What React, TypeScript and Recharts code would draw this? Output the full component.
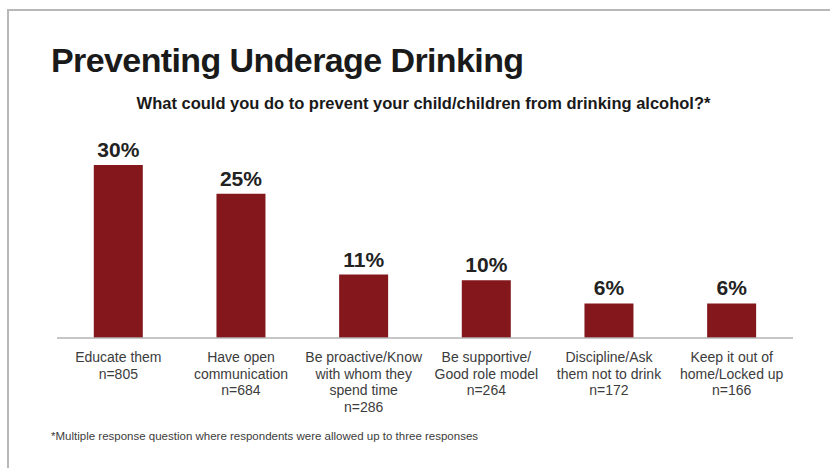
import React from 'react';
import { BarChart, Bar, XAxis, YAxis, LabelList } from 'recharts';

const categories = [
  'Educate them',
  'Have open\ncommunication',
  'Be proactive/Know\nwith whom they\nspend time',
  'Be supportive/\nGood role model',
  'Discipline/Ask\nthem not to drink',
  'Keep it out of\nhome/Locked up',
];
const sampleSizes = [805, 684, 286, 264, 172, 166];
const percents = [30, 25, 11, 10, 6, 6];

const data = categories.map((name, i) => ({
  name,
  n: sampleSizes[i],
  value: percents[i],
}));

const FONT = '"Liberation Sans", Arial, Helvetica, sans-serif';

const CategoryTick = (props: any) => {
  const { x, y, payload, index } = props;
  const lines = String(payload.value).split('\n');
  lines.push('n=' + sampleSizes[index]);
  return (
    <text x={x} y={y} textAnchor="middle" fill="#3c3c3c" fontSize={14} fontFamily={FONT}>
      {lines.map((line, i) => (
        <tspan key={i} x={x} dy={i === 0 ? 16 : 16.5}>
          {line}
        </tspan>
      ))}
    </text>
  );
};

const App: React.FC = () => {
  return (
    <div style={{ position: 'absolute', left: 0, top: 0, width: 830, height: 468, background: '#fff', fontFamily: FONT, overflow: 'hidden' }}>
      <div style={{ position: 'absolute', left: 7, top: 9, right: 0, bottom: 0, borderTop: '2px solid #b8b8b8', borderLeft: '2px solid #b8b8b8' }} />
      <div style={{ position: 'absolute', left: 51, top: 43, fontSize: 34, lineHeight: 1, fontWeight: 'bold', color: '#1a1a1a', letterSpacing: -0.6, whiteSpace: 'nowrap' }}>
        Preventing Underage Drinking
      </div>
      <div style={{ position: 'absolute', left: 0, width: 847, top: 95, fontSize: 16.5, lineHeight: 1, fontWeight: 'bold', color: '#1a1a1a', textAlign: 'center', whiteSpace: 'nowrap' }}>
        What could you do to prevent your child/children from drinking alcohol?*
      </div>
      <div style={{ position: 'absolute', left: 0, top: 0 }}>
        <BarChart width={830} height={468} data={data} margin={{ top: 165, right: 37, bottom: 0, left: 57 }} barCategoryGap="30%">
          <XAxis dataKey="name" interval={0} tickLine={false} axisLine={{ stroke: '#b3b3b3', strokeWidth: 1.5 }} tick={<CategoryTick />} height={130} />
          <YAxis hide domain={[0, 30]} />
          <Bar dataKey="value" fill="#84171c" isAnimationActive={false}>
            <LabelList dataKey="value" position="top" offset={8} formatter={(v: any) => v + '%'} style={{ fontSize: 21, fontWeight: 'bold', fill: '#222', fontFamily: FONT }} />
          </Bar>
        </BarChart>
      </div>
      <div style={{ position: 'absolute', left: 51, top: 431, fontSize: 11.5, lineHeight: 1, color: '#3c3c3c', whiteSpace: 'nowrap' }}>
        *Multiple response question where respondents were allowed up to three responses
      </div>
    </div>
  );
};

export default App;
